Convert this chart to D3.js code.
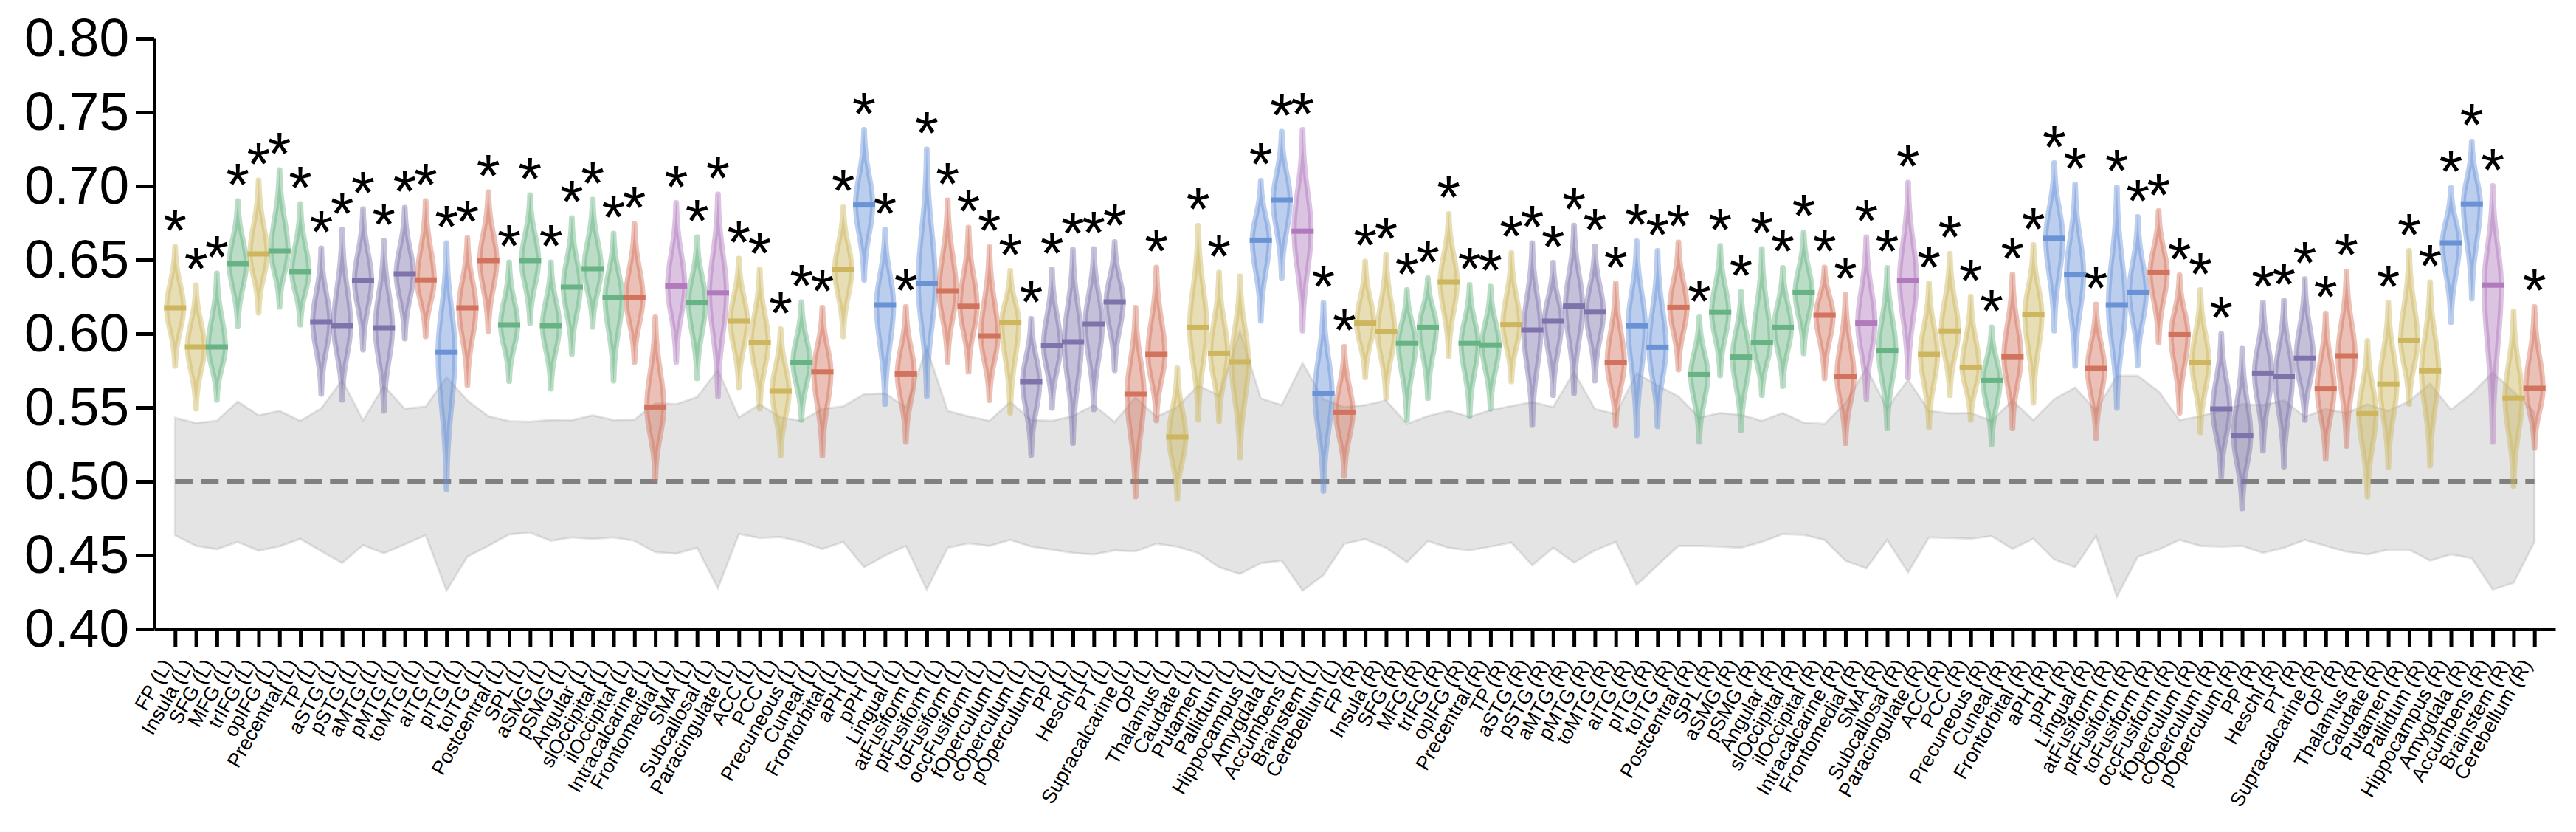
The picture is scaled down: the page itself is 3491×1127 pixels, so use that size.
<!DOCTYPE html>
<html>
<head>
<meta charset="utf-8">
<script src="https://cdn.jsdelivr.net/npm/d3@7"></script>
<style>
  body { margin: 0; background: #fff; }
  svg { display: block; font-family: "Liberation Sans", Arial, sans-serif; }
</style>
</head>
<body>
<svg id="chart" width="3491" height="1127"></svg>
<script>
// Harvard-Oxford regions, left hemisphere then right
var regions = ["FP","Insula","SFG","MFG","trIFG","opIFG","Precentral","TP","aSTG","pSTG",
  "aMTG","pMTG","toMTG","aITG","pITG","toITG","Postcentral","SPL","aSMG","pSMG",
  "Angular","slOccipital","ilOccipital","Intracalcarine","Frontomedial","SMA","Subcallosal","Paracingulate","ACC","PCC",
  "Precuneous","Cuneal","Frontorbital","aPH","pPH","Lingual","atFusiform","ptFusiform","toFusiform","occFusiform",
  "fOperculum","cOperculum","pOperculum","PP","Heschl","PT","Supracalcarine","OP","Thalamus","Caudate",
  "Putamen","Pallidum","Hippocampus","Amygdala","Accumbens","Brainstem","Cerebellum"];
var hemis = ["L", "R"];
var categories = [];
hemis.forEach(function(h) {
  regions.forEach(function(r) { categories.push(r + " (" + h + ")"); });
});

// colour group of each violin (Y yellow, G green, S slate, R red, B blue, O orchid)
var groupsL = "YYGGYGGSSSSSRBRRGGGGGGRROGOYYYGRYBBRBRRRYSSSSSRRYYYYBBOBR".split("");
var groupsR = "YYGGYGGYSSSSRBBRGGGGGGRROGOYYYGRYBBRBBRRYSSSSSRRYYYYBBOYR".split("");
var groups = groupsL.concat(groupsR);

var medians = [
  0.6175,0.591,0.591,0.6475,0.654,0.656,0.642,0.608,0.6055,0.636,
  0.604,0.6405,0.6364,0.5874,0.6175,0.6495,0.606,0.6495,0.6055,0.6315,
  0.644,0.6245,0.6245,0.5503,0.6323,0.6212,0.6276,0.6085,0.594,0.561,
  0.5807,0.5741,0.6435,0.6872,0.6195,0.5728,0.6342,0.629,0.6186,0.5985,
  0.6077,0.5675,0.5918,0.5945,0.6065,0.6215,0.559,0.586,0.530,0.6043,
  0.5868,0.581,0.6633,0.6905,0.6694,0.5596,0.5468,
  0.6072,0.6014,0.5934,0.6043,0.635,0.5934,0.5924,0.6062,0.6025,0.6085,
  0.6187,0.6146,0.5807,0.6054,0.5908,0.6178,0.5723,0.6144,0.5842,0.594,
  0.6043,0.6278,0.6125,0.571,0.6072,0.5887,0.6358,0.586,0.6019,0.5773,
  0.5683,0.5844,0.613,0.6646,0.6402,0.5765,0.6195,0.6278,0.6413,0.5993,
  0.5807,0.549,0.5312,0.5733,0.571,0.5834,0.5627,0.585,0.5458,0.5659,
  0.5953,0.5749,0.6615,0.6879,0.6329,0.5564,0.563];

var maxima = [
  0.659,0.633,0.641,0.690,0.704,0.711,0.688,0.658,0.6705,0.6845,
  0.663,0.6855,0.690,0.6615,0.665,0.696,0.6485,0.694,0.6485,0.6785,
  0.691,0.668,0.6745,0.6112,0.6887,0.6655,0.6945,0.651,0.6437,0.6032,
  0.6215,0.6178,0.6858,0.7382,0.6707,0.6183,0.725,0.6905,0.672,0.6588,
  0.6427,0.6103,0.6437,0.657,0.6575,0.6623,0.6178,0.645,0.5768,0.6733,
  0.6416,0.639,0.7038,0.737,0.7382,0.621,0.5913,
  0.649,0.6535,0.6297,0.6377,0.6813,0.6332,0.6321,0.6549,0.6615,0.6482,
  0.6734,0.6594,0.6342,0.6628,0.6562,0.662,0.6112,0.6596,0.6284,0.6575,
  0.6448,0.6688,0.645,0.6265,0.6655,0.6448,0.7025,0.6342,0.6543,0.6252,
  0.6045,0.6402,0.6602,0.7157,0.7012,0.62,0.6993,0.6792,0.6832,0.6397,
  0.6297,0.60,0.59,0.6212,0.6226,0.6371,0.6138,0.6424,0.5953,0.6212,
  0.6562,0.635,0.6989,0.7303,0.7002,0.6152,0.6183];

var minima = [
  0.578,0.549,0.555,0.605,0.614,0.618,0.606,0.559,0.555,0.589,
  0.5475,0.5965,0.598,0.4945,0.565,0.6017,0.5677,0.607,0.5625,0.586,
  0.6045,0.568,0.5807,0.5013,0.5807,0.5696,0.5575,0.5635,0.549,0.5172,
  0.5415,0.5172,0.598,0.6363,0.5522,0.5265,0.5575,0.5807,0.5741,0.5548,
  0.5463,0.5177,0.5495,0.5257,0.5485,0.575,0.4895,0.541,0.488,0.5415,
  0.5405,0.516,0.6085,0.6377,0.6019,0.4933,0.5035,
  0.5702,0.5562,0.5414,0.5562,0.5847,0.5442,0.549,0.5675,0.5379,0.5582,
  0.5596,0.568,0.5375,0.531,0.5371,0.5755,0.5265,0.5715,0.5344,0.5582,
  0.5643,0.5865,0.5696,0.5257,0.5556,0.5357,0.5702,0.5363,0.5582,0.5414,
  0.5251,0.5357,0.553,0.6019,0.578,0.5291,0.5495,0.5786,0.594,0.5463,
  0.533,0.5027,0.4815,0.5206,0.5098,0.5414,0.5151,0.5238,0.4894,0.5093,
  0.5522,0.5106,0.6077,0.6236,0.5265,0.4966,0.5225];

// null (permutation) band
var nullHigh = [
  0.543,0.5395,0.541,0.554,0.5447,0.5477,0.541,0.5494,0.5686,0.5413,
  0.5648,0.5491,0.5506,0.5705,0.5548,0.5441,0.5408,0.5404,0.5416,0.5414,
  0.5447,0.5415,0.5418,0.553,0.5522,0.557,0.5755,0.5432,0.5522,0.5432,
  0.541,0.549,0.5508,0.559,0.5595,0.5503,0.5905,0.5477,0.544,0.541,
  0.5537,0.5415,0.541,0.5442,0.5516,0.5402,0.5569,0.5437,0.5503,0.5649,
  0.5582,0.6019,0.5562,0.5516,0.580,0.5556,0.5503,
  0.5516,0.5548,0.5389,0.5442,0.5477,0.5437,0.5482,0.551,0.5537,0.5503,
  0.5741,0.549,0.5455,0.5733,0.5649,0.5575,0.5432,0.5463,0.545,0.541,
  0.5463,0.5397,0.5389,0.553,0.5768,0.5495,0.5688,0.5477,0.546,0.5463,
  0.541,0.5548,0.5414,0.5556,0.5635,0.5477,0.5715,0.5715,0.5609,0.5414,
  0.5442,0.5477,0.5522,0.5516,0.5548,0.5437,0.549,0.5463,0.5522,0.5477,
  0.5543,0.5662,0.5485,0.5595,0.5736,0.5609,0.5468];

var nullLow = [
  0.4635,0.4563,0.454,0.459,0.453,0.456,0.461,0.4527,0.4447,0.4568,
  0.4513,0.4573,0.4635,0.426,0.449,0.4563,0.464,0.4652,0.4597,0.462,
  0.461,0.462,0.4597,0.452,0.451,0.455,0.4277,0.4643,0.4616,0.4622,
  0.459,0.4542,0.459,0.4418,0.4497,0.4563,0.4267,0.455,0.458,0.4563,
  0.4603,0.4558,0.4537,0.4515,0.4505,0.4532,0.4526,0.4577,0.4558,0.4515,
  0.4418,0.4373,0.4445,0.4463,0.4259,0.4365,0.4577,
  0.4608,0.455,0.4452,0.4595,0.455,0.4532,0.4558,0.4585,0.4431,0.455,
  0.445,0.4532,0.459,0.4299,0.4431,0.4563,0.4563,0.4558,0.455,0.459,
  0.4643,0.4637,0.4603,0.4463,0.441,0.4603,0.4383,0.462,0.4616,0.4611,
  0.4629,0.4542,0.4611,0.4471,0.4418,0.4629,0.4219,0.4489,0.4537,0.4603,
  0.4563,0.4558,0.4563,0.4515,0.455,0.4603,0.4563,0.4523,0.4505,0.4537,
  0.4537,0.4463,0.4505,0.4479,0.4267,0.4312,0.459];

var nullMean = 0.5;

// violins without a significance star
var noStar = ["Intracalcarine (L)", "Supracalcarine (L)", "Thalamus (L)", "Pallidum (L)",
  "pOperculum (R)", "Thalamus (R)", "Brainstem (R)"];

var yTicks = [0.40, 0.45, 0.50, 0.55, 0.60, 0.65, 0.70, 0.75, 0.80];

var palette = { Y: "#cdb65e", G: "#68b383", S: "#7e73ab", R: "#d2735e", B: "#6a93d6", O: "#b07abd" };

var svg = d3.select("#chart");
var x = d3.scaleLinear().domain([-1, categories.length]).range([209, 3463]);
var y = d3.scaleLinear().domain([0.4, 0.8]).range([852, 52]);
var idx = d3.range(categories.length);

// Null band
var band = d3.area()
  .x(function(i) { return x(i); })
  .y0(function(i) { return y(nullLow[i]); })
  .y1(function(i) { return y(nullHigh[i]); });

svg.append("path")
  .attr("d", band(idx))
  .attr("fill", "#808080")
  .attr("fill-opacity", 0.21)
  .attr("stroke", "#808080")
  .attr("stroke-opacity", 0.2)
  .attr("stroke-width", 3);

// Chance line
svg.append("path")
  .attr("d", d3.line().x(function(i) { return x(i); }).y(function() { return y(nullMean); })(idx))
  .attr("fill", "none")
  .attr("stroke", "#808080")
  .attr("stroke-width", 6)
  .attr("stroke-dasharray", "24,11");

// Violins
var halfW = 11.5;
function violinPoints(i) {
  var med = medians[i], hi = maxima[i], lo = minima[i];
  var su = (hi - med) / 2.6, sl = (med - lo) / 2.6;
  var vals = d3.range(0, 61).map(function(k) { return lo + (hi - lo) * k / 60; });
  var width = function(v) {
    var s = v > med ? su : sl;
    return halfW * Math.exp(-0.5 * Math.pow((v - med) / s, 2));
  };
  var right = vals.map(function(v) { return [x(i) + width(v), y(v)]; });
  var left = vals.slice().reverse().map(function(v) { return [x(i) - width(v), y(v)]; });
  return right.concat(left);
}

var violin = svg.append("g").selectAll("g")
  .data(idx)
  .enter().append("g");

violin.append("path")
  .attr("d", function(i) { return d3.line().curve(d3.curveLinearClosed)(violinPoints(i)); })
  .attr("fill", function(i) { return palette[groups[i]]; })
  .attr("fill-opacity", 0.45)
  .attr("stroke", function(i) { return palette[groups[i]]; })
  .attr("stroke-opacity", 0.45)
  .attr("stroke-width", 7)
  .attr("stroke-linejoin", "round");

violin.append("line")
  .attr("x1", function(i) { return x(i) - halfW - 3.5; })
  .attr("x2", function(i) { return x(i) + halfW + 3.5; })
  .attr("y1", function(i) { return y(medians[i]); })
  .attr("y2", function(i) { return y(medians[i]); })
  .attr("stroke", function(i) { return palette[groups[i]]; })
  .attr("stroke-width", 7);

// Stars
svg.append("g").selectAll("text")
  .data(idx.filter(function(i) { return noStar.indexOf(categories[i]) < 0; }))
  .enter().append("text")
  .attr("x", function(i) { return x(i); })
  .attr("y", function(i) { return y(maxima[i]) + 6; })
  .attr("text-anchor", "middle")
  .attr("font-size", 82)
  .text("*");

// Axes
var yAxis = d3.axisLeft(y)
  .tickValues(yTicks)
  .tickFormat(d3.format(".2f"))
  .tickSize(25)
  .tickSizeOuter(0)
  .tickPadding(9);

var gy = svg.append("g")
  .attr("transform", "translate(209,0)")
  .call(yAxis);
gy.selectAll("text").attr("font-size", 73).attr("font-family", "Liberation Sans, Arial, sans-serif").attr("fill", "#000");

var xAxis = d3.axisBottom(x)
  .tickValues(idx)
  .tickFormat(function(i) { return categories[i]; })
  .tickSize(25)
  .tickSizeOuter(0);

var gx = svg.append("g")
  .attr("transform", "translate(0,852)")
  .call(xAxis);
gx.selectAll("text")
  .attr("x", null)
  .attr("y", null)
  .attr("dy", null)
  .attr("text-anchor", "end")
  .attr("transform", "translate(-3,48) rotate(-60)")
  .attr("font-size", 27)
  .attr("font-family", "Liberation Sans, Arial, sans-serif")
  .attr("fill", "#000");

svg.selectAll(".domain, .tick line")
  .attr("stroke", "#000")
  .attr("stroke-width", 5);
</script>
</body>
</html>
